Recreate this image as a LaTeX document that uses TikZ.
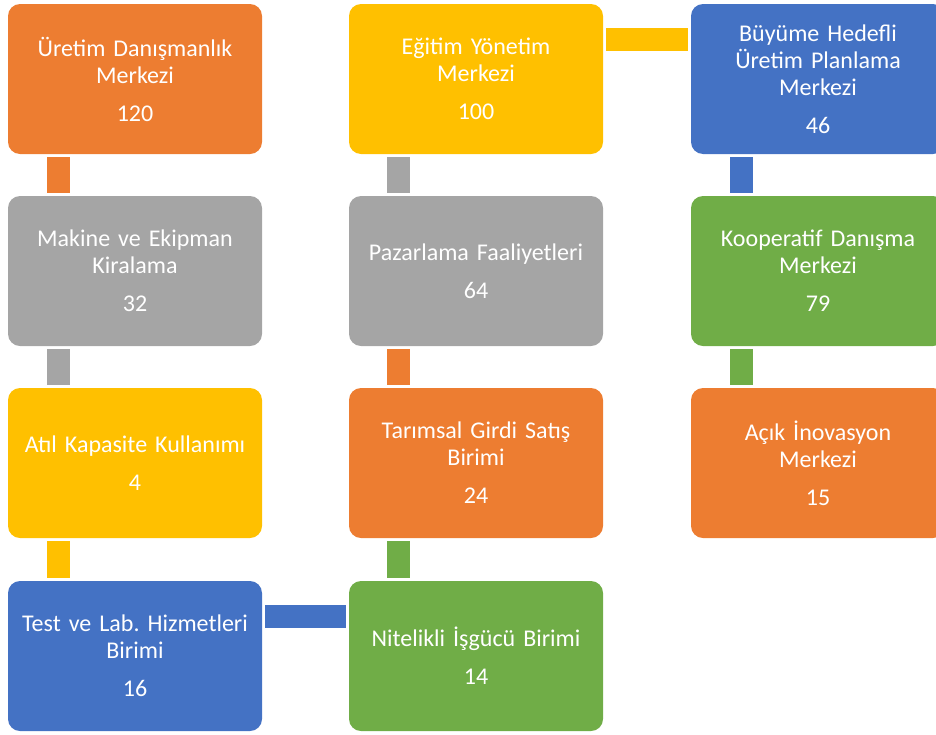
\documentclass[tikz,border=0pt]{standalone}
\usepackage{fontspec}
\setmainfont{Carlito}
\frenchspacing
\definecolor{orangeC}{HTML}{ED7D31}
\definecolor{grayC}{HTML}{A5A5A5}
\definecolor{yellowC}{HTML}{FFC000}
\definecolor{blueC}{HTML}{4472C4}
\definecolor{greenC}{HTML}{70AD47}
\tikzset{
  unit/.style={rounded corners=12pt, minimum width=254pt, minimum height=150pt,
    text width=248pt, align=center, inner sep=0pt, text=white,
    font=\fontsize{24}{27}\selectfont},
  link/.style={line width=23pt, shorten <=3pt, shorten >=3pt}
}
\begin{document}
\begin{tikzpicture}[x=1pt,y=-1pt]
  % Page frame
  \clip (0,0) rectangle (936,734);
  % First column
  \node[unit, fill=orangeC] (uretim) at (135,79) {Üretim Danışmanlık\\Merkezi\\[11pt]120};
  \node[unit, fill=grayC] (makine) at (135,271) {Makine ve Ekipman\\Kiralama\\[11pt]32};
  \node[unit, fill=yellowC] (atil) at (135,463) {Atıl Kapasite Kullanımı\\[11pt]4};
  \node[unit, fill=blueC] (test) at (135,656) {Test ve Lab. Hizmetleri\\Birimi\\[11pt]16};
  % Second column
  \node[unit, fill=yellowC] (egitim) at (476,79) {Eğitim Yönetim\\Merkezi\\[11pt]100};
  \node[unit, fill=grayC] (pazar) at (476,271) {Pazarlama Faaliyetleri\\[11pt]64};
  \node[unit, fill=orangeC] (girdi) at (476,463) {Tarımsal Girdi Satış\\Birimi\\[11pt]24};
  \node[unit, fill=greenC] (isgucu) at (476,656) {Nitelikli İşgücü Birimi\\[11pt]14};
  % Third column
  \node[unit, fill=blueC] (buyume) at (818,79) {Büyüme Hedefli\\Üretim Planlama\\Merkezi\\[11pt]46};
  \node[unit, fill=greenC] (koop) at (818,271) {Kooperatif Danışma\\Merkezi\\[11pt]79};
  \node[unit, fill=orangeC] (acik) at (818,463) {Açık İnovasyon\\Merkezi\\[11pt]15};
  % Links
  \draw[link, orangeC] ([xshift=51pt]uretim.south west) -- ([xshift=51pt]makine.north west);
  \draw[link, grayC] ([xshift=51pt]makine.south west) -- ([xshift=51pt]atil.north west);
  \draw[link, yellowC] ([xshift=51pt]atil.south west) -- ([xshift=51pt]test.north west);
  \draw[link, blueC] ([yshift=-36pt]test.north east) -- ([yshift=-36pt]isgucu.north west);
  \draw[link, greenC] ([xshift=50pt]isgucu.north west) -- ([xshift=50pt]girdi.south west);
  \draw[link, orangeC] ([xshift=50pt]girdi.north west) -- ([xshift=50pt]pazar.south west);
  \draw[link, grayC] ([xshift=50pt]pazar.north west) -- ([xshift=50pt]egitim.south west);
  \draw[link, yellowC] ([yshift=-36pt]egitim.north east) -- ([yshift=-36pt]buyume.north west);
  \draw[link, blueC] ([xshift=51pt]buyume.south west) -- ([xshift=51pt]koop.north west);
  \draw[link, greenC] ([xshift=51pt]koop.south west) -- ([xshift=51pt]acik.north west);
\end{tikzpicture}
\end{document}
